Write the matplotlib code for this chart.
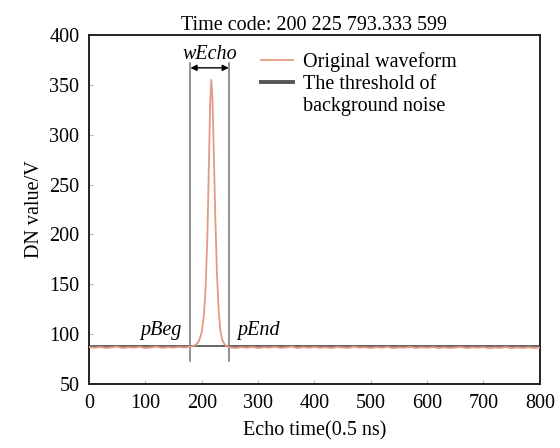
import numpy
import matplotlib
matplotlib.use('Agg')
import matplotlib.pyplot as plot
from matplotlib.lines import Line2D

##########################################################################################
# Data

# baseline samples before the echo (every 10 ns)
base_left_x = [0, 10, 20, 30, 40, 50, 60, 70, 80, 90, 100, 110, 120, 130, 140, 150, 160, 170, 180]
base_left_y = [87.0, 86.3, 87.1, 86.0, 86.7, 87.4, 86.1, 86.8, 86.4, 87.2, 85.9, 86.6, 87.3, 86.2, 86.9, 86.4, 87.1, 86.5, 87.5]

# echo pulse
echo_x = [185, 190, 195, 200, 204, 207, 210, 213, 215, 217, 219, 221, 224, 227, 230, 233, 236, 240, 245]
echo_y = [88.0, 89.5, 93.0, 102.0, 120.0, 148.0, 198.0, 278.0, 332.0, 355.0, 337.0, 292.0, 218.0, 160.0, 124.0, 104.0, 95.0, 90.0, 87.5]

# baseline samples after the echo
base_right_x = [250, 260, 270, 280, 290, 300, 310, 320, 330, 340, 350, 360, 370, 380, 390, 400,
                410, 420, 430, 440, 450, 460, 470, 480, 490, 500, 510, 520, 530, 540, 550, 560,
                570, 580, 590, 600, 610, 620, 630, 640, 650, 660, 670, 680, 690, 700, 710, 720,
                730, 740, 750, 760, 770, 780, 790, 800]
base_right_y = [86.7, 86.0, 86.9, 86.3, 87.1, 85.9, 86.8, 86.4, 87.2, 86.1, 86.7, 87.4, 86.0, 86.9, 86.3, 87.0,
                86.2, 86.8, 85.9, 87.1, 86.5, 86.1, 87.3, 86.4, 86.7, 86.0, 86.9, 86.3, 87.2, 85.8, 86.6, 86.4,
                87.1, 86.0, 86.8, 86.3, 87.0, 86.1, 86.7, 85.9, 86.5, 87.1, 86.0, 86.7, 86.3, 86.9, 85.8, 86.5,
                86.2, 87.0, 85.9, 86.6, 86.1, 86.8, 86.0, 86.5]

threshold = 88.5
p_beg = 180
p_end = 248

##########################################################################################

plot.rcParams['font.family'] = ['Liberation Serif', 'DejaVu Serif']
fs = 14.5

wave_x = numpy.array(base_left_x + echo_x + base_right_x)
wave_y = numpy.array(base_left_y + echo_y + base_right_y)

f = plot.figure(figsize=(5.6, 4.48), dpi=100)
ax = f.add_axes([0.159, 0.143, 0.805, 0.779])

# waveform and threshold
ax.plot(wave_x, wave_y, color='#e39a80', linewidth=1.3, zorder=3)
ax.plot([0, 800], [threshold, threshold], color='#3a3a3a', linewidth=1.1, zorder=2)

# pulse start / end markers
ax.plot([p_beg, p_beg], [73, 372], color='#808080', linewidth=1.2, zorder=2)
ax.plot([p_end, p_end], [73, 372], color='#808080', linewidth=1.2, zorder=2)
ax.annotate('', xy=(p_beg, 367), xytext=(p_end, 367),
            arrowprops=dict(arrowstyle='<|-|>', color='black', linewidth=1.0, mutation_scale=9,
                            shrinkA=0, shrinkB=0))
ax.text((p_beg + p_end) / 2., 376, 'wEcho', style='italic', fontsize=fs, ha='center', va='baseline')
ax.text(165, 99, 'pBeg', style='italic', fontsize=fs, ha='right', va='baseline')
ax.text(263, 99, 'pEnd', style='italic', fontsize=fs, ha='left', va='baseline')

ax.set_xlim(0, 800)
ax.set_ylim(50, 400)
ax.set_xticks(numpy.arange(0, 801, 100))
ax.set_yticks(numpy.arange(50, 401, 50))
ax.tick_params(direction='in', length=3, width=0.8, color='#bbbbbb', labelsize=fs, pad=7)

for spine in ax.spines.values():
    spine.set_linewidth(1.4)
    spine.set_color('#222222')

ax.set_xlabel('Echo time(0.5 ns)', fontsize=fs, labelpad=6)
ax.set_ylabel('DN value/V', fontsize=fs, labelpad=4)
ax.set_title('Time code: 200 225 793.333 599', fontsize=fs, pad=3)

# legend: second label wraps onto a line with no handle
handles = [Line2D([], [], color='#e39a80', linewidth=1.3),
           Line2D([], [], color='#555555', linewidth=2.8),
           Line2D([], [], color='none')]
labels = ['Original waveform', 'The threshold of', 'background noise']
ax.legend(handles, labels, loc='upper left', bbox_to_anchor=(0.355, 0.985), frameon=False, fontsize=fs,
          handlelength=1.6, handletextpad=0.5, labelspacing=0.15, borderaxespad=0.2)

plot.savefig('out.png', dpi=100)
plot.close()
